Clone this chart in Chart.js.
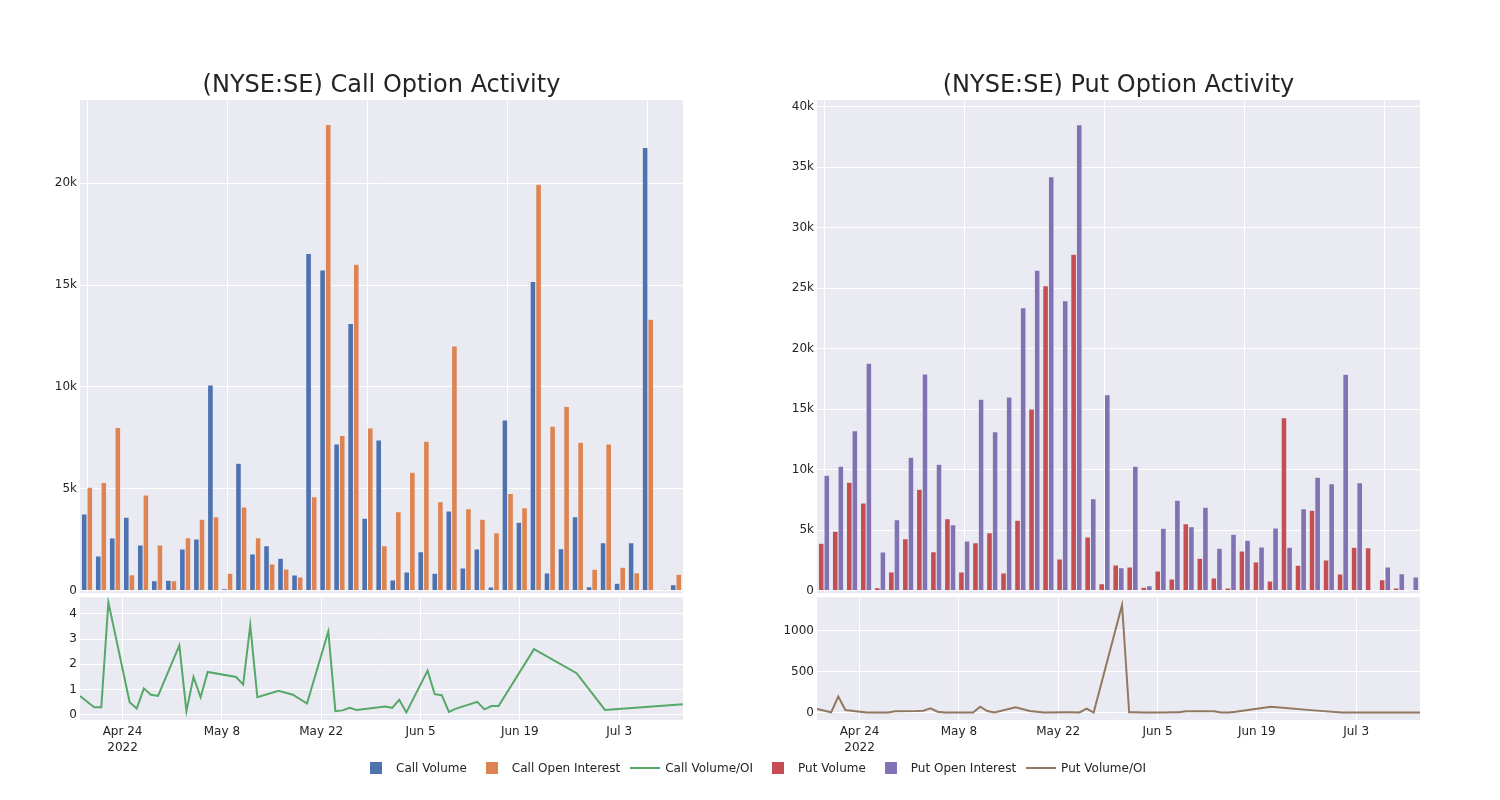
<!DOCTYPE html>
<html><head><meta charset="utf-8">
<script src="https://cdn.jsdelivr.net/npm/chart.js@4.4.1/dist/chart.umd.min.js"></script>
<style>
html,body{margin:0;padding:0;background:#fff;width:1500px;height:800px;overflow:hidden;font-family:'DejaVu Sans',sans-serif;color:rgb(36,36,36)}
canvas{position:absolute;left:0;top:0}
.title{position:absolute;top:84px;font-size:24px;white-space:nowrap;transform:translate(-50%,-50%);line-height:1}
#legend{position:absolute;left:356px;top:760px;height:16px;display:flex;align-items:center;font-size:12px;white-space:nowrap}
.item{display:flex;align-items:center;margin-right:5px}
.sym{width:40px;height:16px;position:relative;flex:none}
.sq{position:absolute;left:14px;top:2px;width:12px;height:12px}
.ln{position:absolute;left:5px;top:7px;width:30px;height:2px}
</style></head>
<body>
<canvas id="tl" width="1500" height="800"></canvas>
<canvas id="bl" width="1500" height="800"></canvas>
<canvas id="tr" width="1500" height="800"></canvas>
<canvas id="br" width="1500" height="800"></canvas>
<div class="title" style="left:381.5px">(NYSE:SE) Call Option Activity</div>
<div class="title" style="left:1118.5px">(NYSE:SE) Put Option Activity</div>
<div id="legend"></div>
<script>
const dates = ['2022-04-18','2022-04-20','2022-04-21','2022-04-22','2022-04-25','2022-04-26','2022-04-27','2022-04-28','2022-04-29','2022-05-02','2022-05-03','2022-05-04','2022-05-05','2022-05-06','2022-05-10','2022-05-11','2022-05-12','2022-05-13','2022-05-16','2022-05-18','2022-05-20','2022-05-23','2022-05-24','2022-05-25','2022-05-26','2022-05-27','2022-05-31','2022-06-01','2022-06-02','2022-06-03','2022-06-06','2022-06-07','2022-06-08','2022-06-09','2022-06-10','2022-06-13','2022-06-14','2022-06-15','2022-06-16','2022-06-21','2022-06-27','2022-07-01','2022-07-12'];
const callVolume = [3765,1702,2586,3601,2243,491,507,2046,2537,10100,98,6253,1800,2210,1588,769,16550,15748,7203,13112,3552,7399,524,917,1915,851,3912,1113,2046,180,8381,3356,15175,868,2063,3634,196,2357,360,2357,21756,10,295];
const callOpenInterest = [5075,5304,8005,786,4698,2243,491,2603,3503,3634,851,4109,2603,1310,1064,671,4616,22885,7612,16026,7989,2210,3880,5811,7334,4371,12016,4027,3503,2848,4764,4076,19955,8070,9036,7285,1048,7203,1146,884,13325,65,802];
const callVolOI = [0.75,0.3,0.3,4.45,0.5,0.25,1.05,0.8,0.75,2.75,0.15,1.5,0.7,1.7,1.5,1.2,3.55,0.7,0.95,0.8,0.45,3.3,0.15,0.18,0.28,0.2,0.33,0.28,0.6,0.1,1.75,0.82,0.78,0.12,0.25,0.52,0.22,0.35,0.35,2.6,1.65,0.2,0.42];
const putVolume = [3912,4904,8954,7246,248,1543,4298,8375,3223,5951,1543,3967,4794,1460,5813,15015,25208,2617,27798,4436,579,2121,1956,276,1625,964,5538,2672,1047,220,3278,2369,799,14298,2094,6640,2535,1378,3582,3554,909,220,55];
const putOpenInterest = [9532,10276,13224,18789,3196,5868,11020,17908,10441,5455,4105,15814,13141,16007,23390,26476,34217,23968,38515,7604,16199,1901,10276,413,5152,7466,5290,6888,3499,4656,4160,3609,5179,3582,6777,9367,8844,17880,8926,0,1956,1405,1130];
const putVolOI = [45,5,195,33,2,3,3,3,16,20,24,53,12,1,1,73,20,2,65,20,2,5,5,3,50,1,1310,5,4,1,3,4,5,16,16,16,1,2,10,73,28,1,1];
const tickDates = ['2022-04-24','2022-05-08','2022-05-22','2022-06-05','2022-06-19','2022-07-03'];
const tickLabels = [['Apr 24','2022'],'May 8','May 22','Jun 5','Jun 19','Jul 3'];
const callBarTicks = [0,5000,10000,15000,20000];
const putBarTicks = [0,5000,10000,15000,20000,25000,30000,35000,40000];
const callRatioTicks = [0,1,2,3,4];
const putRatioTicks = [0,500,1000];

const C = {blue:'#4C72B0',orange:'#DD8452',green:'#55A868',red:'#C44E52',purple:'#8172B3',brown:'#937860',bg:'#EAEAF2',txt:'rgb(36,36,36)'};
Chart.defaults.font.family = "'DejaVu Sans', sans-serif";
Chart.defaults.font.size = 12;
Chart.defaults.color = C.txt;
Chart.defaults.animation = false;

const dayNum = s => { const [y,m,d] = s.split('-').map(Number); return Date.UTC(y,m-1,d)/86400000; };

const bgPlugin = { id:'bgfill', beforeDraw(chart){ const a = chart.chartArea, c = chart.ctx; c.save(); c.fillStyle = C.bg; c.fillRect(a.left, a.top, a.right-a.left, a.bottom-a.top); c.restore(); } };

function pad(area, xh){ return {left: area.left-80, top: area.top, right: 1500-area.right, bottom: 800-area.bottom-xh}; }
const fmtK = v => v === 0 ? '0' : (v/1000)+'k';

function barChart(id, area, ymin, ymax, yticks, s1, s2, n1, n2, c1, c2){
  return new Chart(document.getElementById(id), {
    type:'bar',
    data:{ labels: dates, datasets:[
      {label:n1, data:s1, backgroundColor:c1, borderColor:'rgba(234,234,242,0.9)', borderWidth:0.5},
      {label:n2, data:s2, backgroundColor:c2, borderColor:'rgba(234,234,242,0.9)', borderWidth:0.5}
    ]},
    options:{ responsive:false, events:[], layout:{padding:pad(area,0)},
      datasets:{bar:{categoryPercentage:0.8, barPercentage:1.0}},
      plugins:{legend:{display:false}, tooltip:{enabled:false}},
      scales:{
        x:{ ticks:{display:false, autoSkip:false}, border:{display:false},
            grid:{offset:false, drawTicks:false, lineWidth:1, color: ctx => (ctx.index % 10 === 0) ? '#ffffff' : 'rgba(0,0,0,0)'},
            afterFit: s => { s.height = 0; } },
        y:{ min:ymin, max:ymax, border:{display:false},
            afterBuildTicks: s => { s.ticks = yticks.map(v => ({value:v})); },
            ticks:{padding:3, callback: fmtK},
            grid:{color:'#ffffff', drawTicks:false, lineWidth:1},
            afterFit: s => { s.width = 80; } }
      }
    },
    plugins:[bgPlugin]
  });
}

function lineChart(id, area, ymin, ymax, yticks, series, name, color){
  return new Chart(document.getElementById(id), {
    type:'line',
    data:{ datasets:[{label:name, data: dates.map((d,i)=>({x:dayNum(d), y:series[i]})), borderColor:color, borderWidth:2, pointRadius:0, tension:0, fill:false}]},
    options:{ responsive:false, events:[], layout:{padding:pad(area,40)},
      plugins:{legend:{display:false}, tooltip:{enabled:false}},
      scales:{
        x:{ type:'linear', min:dayNum(dates[0]), max:dayNum(dates[dates.length-1]), border:{display:false},
            afterBuildTicks: s => { s.ticks = tickDates.map(d => ({value: dayNum(d)})); },
            ticks:{autoSkip:false, maxRotation:0, padding:4, font:{lineHeight:1.35}, callback:(v,i) => tickLabels[i]},
            grid:{color:'#ffffff', drawTicks:false, lineWidth:1},
            afterFit: s => { s.height = 40; } },
        y:{ min:ymin, max:ymax, border:{display:false},
            afterBuildTicks: s => { s.ticks = yticks.map(v => ({value:v})); },
            ticks:{padding:3, callback: v => String(v)},
            grid:{color:'#ffffff', drawTicks:false, lineWidth:1},
            afterFit: s => { s.width = 80; } }
      }
    },
    plugins:[bgPlugin]
  });
}

barChart('tl', {left:80, top:100, right:683, bottom:593.3}, -130, 24090, callBarTicks, callVolume, callOpenInterest, 'Call Volume', 'Call Open Interest', C.blue, C.orange);
barChart('tr', {left:817, top:100, right:1420, bottom:593.3}, -215, 40550, putBarTicks, putVolume, putOpenInterest, 'Put Volume', 'Put Open Interest', C.red, C.purple);
lineChart('bl', {left:80, top:597.3, right:683, bottom:720}, -0.2, 4.65, callRatioTicks, callVolOI, 'Call Volume/OI', C.green);
lineChart('br', {left:817, top:597.3, right:1420, bottom:720}, -89, 1402, putRatioTicks, putVolOI, 'Put Volume/OI', C.brown);

const legendItems = [
  {name:'Call Volume', color:C.blue, kind:'sq'},
  {name:'Call Open Interest', color:C.orange, kind:'sq'},
  {name:'Call Volume/OI', color:C.green, kind:'ln'},
  {name:'Put Volume', color:C.red, kind:'sq'},
  {name:'Put Open Interest', color:C.purple, kind:'sq'},
  {name:'Put Volume/OI', color:C.brown, kind:'ln'}
];
const lg = document.getElementById('legend');
legendItems.forEach(it => {
  const el = document.createElement('div'); el.className = 'item';
  const sym = document.createElement('div'); sym.className = 'sym';
  const mk = document.createElement('div'); mk.className = it.kind; mk.style.background = it.color;
  sym.appendChild(mk);
  const tx = document.createElement('span'); tx.textContent = it.name;
  el.appendChild(sym); el.appendChild(tx); lg.appendChild(el);
});
</script>
</body></html>
